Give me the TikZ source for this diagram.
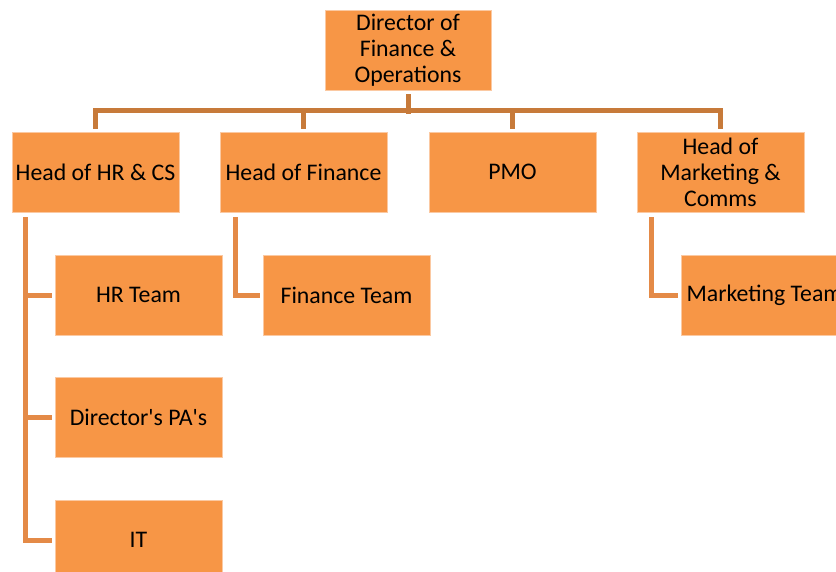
\documentclass[tikz,border=0pt]{standalone}
\usepackage{fontspec}
\setmainfont{Carlito}
\definecolor{boxfill}{HTML}{F79646}
\definecolor{boxedge}{HTML}{FBC9A2}
\definecolor{mainline}{HTML}{C77A3A}
\definecolor{subline}{HTML}{E48A47}
\tikzset{
  unit/.style={rectangle, fill=boxfill, draw=boxedge, line width=0.6pt,
    minimum width=167pt, minimum height=80pt, inner sep=2pt,
    align=center, text=black,
    font=\fontsize{23.8}{26}\selectfont},
  mainlink/.style={draw=mainline, line width=5pt, line cap=rect},
  sublink/.style={draw=subline, line width=5pt, line cap=rect}
}
\begin{document}
\begin{tikzpicture}[x=1pt, y=-1pt]
\useasboundingbox (0,0) rectangle (836,571);
\clip (0,0) rectangle (836,571);

% top level
\node[unit, minimum width=166pt] (top) at (408,50) {Director of\\Finance \&\\Operations};

% heads
\node[unit] (hr)  at (95.5,172)  {Head of HR \& CS};
\node[unit] (fin) at (303.5,172) {Head of Finance};
\node[unit] (pmo) at (512.5,172) {PMO};
\node[unit] (mkt) at (720.5,172) {Head of\\Marketing \&\\Comms};

% teams
\node[unit] (hrteam)  at (138.5,295) {HR Team};
\node[unit] (pa)      at (138.5,417) {Director\textquotesingle s PA\textquotesingle s};
\node[unit] (it)      at (138.5,540) {IT};
\node[unit] (finteam) at (346.5,295) {Finance Team};
\node[unit] (mktteam) at (764.5,295) {Marketing Team};

% director to heads
\draw[mainlink] ([yshift=-6pt]top.south) -- ++(0,15);
\draw[mainlink] ([yshift=5pt]hr.north) -- ++(0,-16) -| ([yshift=5pt]mkt.north);
\draw[mainlink] ([yshift=5pt]fin.north) -- ++(0,-16);
\draw[mainlink] ([yshift=5pt]pmo.north) -- ++(0,-16);

% heads to teams
\draw[sublink] ([xshift=14pt,yshift=-7pt]hr.south west) |- ([xshift=-5pt]it.west);
\draw[sublink] ([xshift=-5pt]hrteam.west) -- ++(-24,0);
\draw[sublink] ([xshift=-5pt]pa.west) -- ++(-24,0);
\draw[sublink] ([xshift=16pt,yshift=-7pt]fin.south west) |- ([xshift=-5pt]finteam.west);
\draw[sublink] ([xshift=15pt,yshift=-7pt]mkt.south west) |- ([xshift=-5pt]mktteam.west);
\end{tikzpicture}
\end{document}
